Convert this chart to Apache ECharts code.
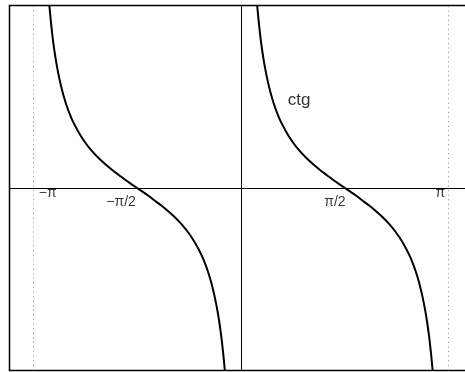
<!DOCTYPE html>
<html>
<head>
<meta charset="utf-8">
<script src="https://cdn.jsdelivr.net/npm/echarts@6/dist/echarts.min.js"></script>
<style>
  html, body { margin: 0; padding: 0; background: #fff; }
  #chart { width: 465px; height: 372px; }
</style>
</head>
<body>
<div id="chart"></div>
<script>
// Cotangent over two periods, each branch clipped to |y| <= 4.
const leftBranchX = [-2.897, -2.882, -2.862, -2.842, -2.812, -2.782, -2.742, -2.692, -2.642, -2.592,
  -2.542, -2.442, -2.342, -2.242, -2.142, -2.042, -1.942, -1.842, -1.742, -1.642, -1.571,
  -1.500, -1.400, -1.300, -1.200, -1.100, -1.000, -0.900, -0.800, -0.700, -0.600,
  -0.550, -0.500, -0.450, -0.400, -0.360, -0.330, -0.300, -0.280, -0.260, -0.245];
const rightBranchX = [0.245, 0.260, 0.280, 0.300, 0.330, 0.360, 0.400, 0.450, 0.500, 0.550,
  0.600, 0.700, 0.800, 0.900, 1.000, 1.100, 1.200, 1.300, 1.400, 1.500, 1.571,
  1.642, 1.742, 1.842, 1.942, 2.042, 2.142, 2.242, 2.342, 2.442, 2.542,
  2.592, 2.642, 2.692, 2.742, 2.782, 2.812, 2.842, 2.862, 2.882, 2.897];
const ctgValues = [4.00, 3.76, 3.48, 3.23, 2.92, 2.66, 2.37, 2.07, 1.83, 1.63,
  1.46, 1.19, 0.97, 0.79, 0.64, 0.51, 0.39, 0.28, 0.17, 0.07, 0.00,
  -0.07, -0.17, -0.28, -0.39, -0.51, -0.64, -0.79, -0.97, -1.19, -1.46,
  -1.63, -1.83, -2.07, -2.37, -2.66, -2.92, -3.23, -3.48, -3.76, -4.00];

// Tick marks along the x axis (radians) and their labels
const tickX = [-Math.PI, -Math.PI / 2, Math.PI / 2, Math.PI];
const tickLabels = ['\u2212\u03c0', '\u2212\u03c0/2', '\u03c0/2', '\u03c0'];
const tickLabelOffsets = [[14.5, 5], [-16, 14], [-10, 14], [-8.5, 5]];

// Asymptote guides at ±π
const guideX = [-Math.PI, Math.PI];

// Curve name and where it sits
const curveName = 'ctg';
const curveNameAt = [0.88, 1.93];

const xRange = [-3.5, 3.5];
const yRange = [-4, 4];

const FONT = '"Liberation Sans", Arial, Helvetica, sans-serif';

const chart = echarts.init(document.getElementById('chart'), null, { renderer: 'canvas' });

const zip = (xs, ys) => xs.map((x, i) => [x, ys[i]]);

chart.setOption({
  animation: false,
  backgroundColor: '#ffffff',
  grid: {
    left: 9.5, top: 5.5, width: 463, height: 365,
    outerBoundsMode: 'none', containLabel: false,
    show: true, borderColor: '#000', borderWidth: 1.5, backgroundColor: 'transparent'
  },
  xAxis: {
    type: 'value', min: xRange[0], max: xRange[1],
    axisLine: { show: true, onZero: true, lineStyle: { color: '#000', width: 1 } },
    axisTick: { show: false }, axisLabel: { show: false }, splitLine: { show: false }
  },
  yAxis: {
    type: 'value', min: yRange[0], max: yRange[1],
    axisLine: { show: true, onZero: true, lineStyle: { color: '#000', width: 1 } },
    axisTick: { show: false }, axisLabel: { show: false }, splitLine: { show: false }
  },
  series: [
    {
      type: 'line', data: zip(leftBranchX, ctgValues), showSymbol: false, smooth: 0.3,
      clip: true, lineStyle: { color: '#000', width: 2 },
      markLine: {
        silent: true, symbol: 'none', label: { show: false },
        lineStyle: { color: '#8a8a8a', width: 1, type: [1, 3.6] },
        data: guideX.map(x => ({ xAxis: x }))
      }
    },
    {
      type: 'line', data: zip(rightBranchX, ctgValues), showSymbol: false, smooth: 0.3,
      clip: true, lineStyle: { color: '#000', width: 2 }
    },
    {
      type: 'scatter', symbolSize: 0, silent: true,
      data: tickX.map((x, i) => ({
        value: [x, 0],
        label: {
          show: true, formatter: tickLabels[i], position: 'inside',
          offset: tickLabelOffsets[i], color: '#000', fontSize: 14, fontFamily: FONT
        }
      }))
    },
    {
      type: 'scatter', symbolSize: 0, silent: true,
      data: [{
        value: curveNameAt,
        label: {
          show: true, formatter: curveName, position: 'inside',
          color: '#000', fontSize: 17, fontFamily: FONT
        }
      }]
    }
  ]
});
</script>
</body>
</html>
